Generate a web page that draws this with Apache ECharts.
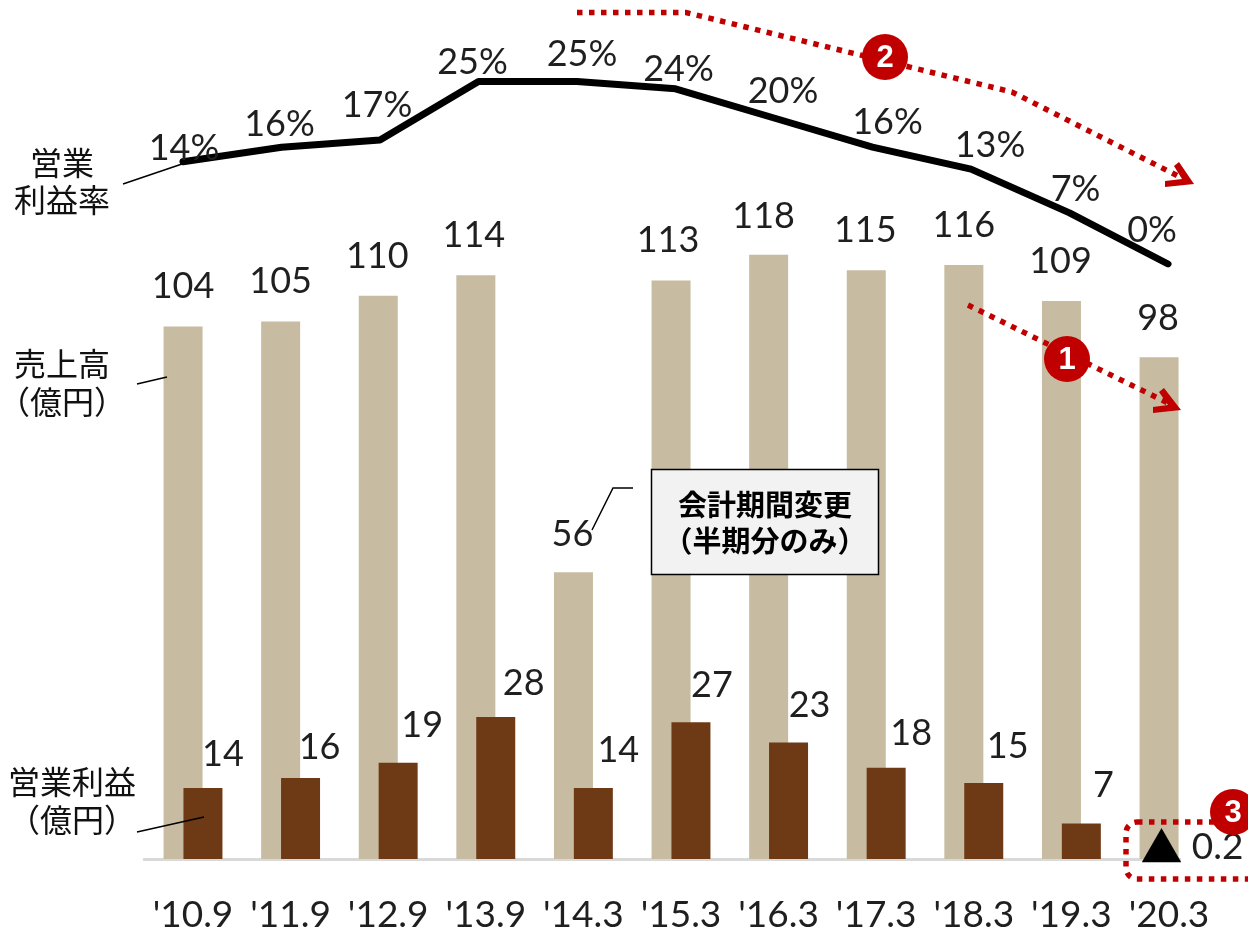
<!DOCTYPE html>
<html>
<head>
<meta charset="utf-8">
<style>html,body{margin:0;padding:0;background:#fff}#chart{width:1248px;height:930px}</style>
<script src="https://cdn.jsdelivr.net/npm/echarts@6/dist/echarts.min.js"></script>
</head>
<body>
<div id="chart"></div>
<script>
// Fiscal periods
const categories = ["'10.9","'11.9","'12.9","'13.9","'14.3","'15.3","'16.3","'17.3","'18.3","'19.3","'20.3"];
// Net sales (100M yen)
const salesValues = [104,105,110,114,56,113,118,115,116,109,98];
// Operating profit (100M yen); the last period is a small loss
const profitValues = [14,16,19,28,14,27,23,18,15,7,-0.2];
// Operating margin (%)
const marginValues = [14,16,17,25,25,24,20,16,13,7,0];

// Per-point label nudges, [dx, dy]
const salesLabelNudge = [[0,0],[0,0],[-1,1],[-2,0],[-1,2],[-3,0],[-5,2],[-1,0],[0,0],[-1,0],[-1,1]];
const profitLabelNudge = [[20,6],[19,9],[24,3],[28,6],[25,2],[21,3],[21,3],[25,6],[24,3],[22,2],[13,31]];
const marginLabelNudge = [[1,10],[-2,1],[-3,-11],[-6,4],[5,-4],[3,4],[9,-3],[15,-1],[19,0],[6,0],[-16,-10]];

const LATIN = 'Lato, "Noto Sans", sans-serif';
const CJK = '"Noto Sans CJK JP", sans-serif';
const RED = '#C00000';
const INK = '#1f1f1f';

const withLabel = (values, nudges) => values.map((v, i) => ({
  value: v,
  label: { offset: nudges[i] }
}));

const chart = echarts.init(document.getElementById('chart'), null, { renderer: 'canvas' });

const leader = (points, width) => ({
  type: 'polyline', z: 60, shape: { points },
  style: { stroke: '#000', lineWidth: width || 1.5, fill: null }
});
const caption = (x, y, text, extra) => ({
  type: 'text', z: 60, x, y,
  style: Object.assign({
    text, fill: '#111', font: '32px ' + CJK, align: 'center', verticalAlign: 'middle'
  }, extra)
});
const dotted = (points) => ({
  type: 'polyline', z: 70, shape: { points },
  style: { stroke: RED, lineWidth: 5.5, lineDash: [5.5, 6.5], fill: null }
});
const arrowHead = (points) => ({
  type: 'polygon', z: 71, shape: { points },
  style: { fill: RED }
});
const badge = (x, y, text) => ({
  type: 'group', z: 80, children: [
    { type: 'circle', z: 80, shape: { cx: x, cy: y, r: 23 }, style: { fill: RED } },
    { type: 'text', z: 81, x, y: y + 1, style: {
      text, fill: '#fff', font: 'bold 31px "Liberation Sans", sans-serif',
      align: 'center', verticalAlign: 'middle' } }
  ]
});

chart.setOption({
  animation: false,
  backgroundColor: '#fff',
  grid: [
    { left: 144.2, width: 1073.6, top: 39.8, height: 819.2, outerBoundsMode: 'none' },
    { left: 133.75, width: 1083.5, top: 45, height: 219, outerBoundsMode: 'none' }
  ],
  xAxis: [
    {
      type: 'category', gridIndex: 0, data: categories, offset: 1.5,
      axisLine: { show: true, lineStyle: { color: '#d9d9d9', width: 3 } },
      axisTick: { show: false },
      axisLabel: { color: INK, fontFamily: LATIN, fontSize: 37, margin: 36.5, interval: 0 }
    },
    { type: 'category', gridIndex: 1, data: categories, show: false }
  ],
  yAxis: [
    { type: 'value', gridIndex: 0, min: 0, max: 160, show: false },
    { type: 'value', gridIndex: 1, min: 0, max: 30, show: false },
    { type: 'value', gridIndex: 0, min: 0, max: 161.6, show: false }
  ],
  series: [
    {
      name: '売上高', type: 'bar', xAxisIndex: 0, yAxisIndex: 0,
      data: withLabel(salesValues, salesLabelNudge),
      barWidth: 39, barGap: '-49%',
      itemStyle: { color: '#C7BCA1' },
      label: { show: true, position: 'top', distance: 22, color: INK, fontFamily: LATIN, fontSize: 36 }
    },
    {
      name: '営業利益', type: 'bar', xAxisIndex: 0, yAxisIndex: 2,
      data: withLabel(profitValues, profitLabelNudge),
      barWidth: 39,
      itemStyle: { color: '#6E3A16' },
      label: {
        show: true, position: 'top', distance: 22, color: INK, fontFamily: LATIN, fontSize: 36,
        formatter: (p) => p.value < 0 ? '{t|▲} {n|' + Math.abs(p.value) + '}' : String(p.value),
        rich: {
          t: { fontFamily: CJK, fontSize: 42, color: '#000' },
          n: { fontFamily: LATIN, fontSize: 37, color: INK }
        }
      }
    },
    {
      name: '営業利益率', type: 'line', xAxisIndex: 1, yAxisIndex: 1,
      data: withLabel(marginValues, marginLabelNudge),
      symbol: 'circle', symbolSize: 1, showSymbol: true, z: 5,
      itemStyle: { color: '#000' },
      lineStyle: { color: '#000', width: 7, cap: 'round', join: 'round' },
      label: {
        show: true, position: 'top', distance: 5, color: INK, fontFamily: LATIN, fontSize: 36,
        formatter: (p) => p.value + '%'
      }
    }
  ],
  graphic: { elements: [
    // The baseline stops at the final bar so the loss figure stands clear of it
    { type: 'rect', z: 1, shape: { x: 1181, y: 856, width: 67, height: 8 }, style: { fill: '#fff' } },

    // Series captions and their leader lines
    caption(62, 163, '営業'),
    caption(62, 200, '利益率'),
    leader([[123, 184], [182, 164]]),
    caption(62, 364, '売上高'),
    caption(62, 402, '（億円）'),
    leader([[137, 384], [167, 377]]),
    caption(72, 782, '営業利益'),
    caption(72, 820, '（億円）'),
    leader([[137, 832], [204, 817]]),

    // Note on the shortened fiscal period
    leader([[592, 530], [613, 488], [633, 488]]),
    { type: 'rect', z: 60, shape: { x: 651.5, y: 469.5, width: 227, height: 105 },
      style: { fill: '#F2F2F2', stroke: '#000', lineWidth: 1.5 } },
    caption(765, 505, '会計期間変更', { font: 'bold 29px ' + CJK, fill: '#000' }),
    caption(765, 541, '（半期分のみ）', { font: 'bold 29px ' + CJK, fill: '#000' }),

    // Trend arrows and numbered call-outs
    dotted([[968, 305], [1168, 403]]),
    arrowHead([[1181, 410], [1164, 388], [1159, 392], [1168, 405], [1153, 407], [1153, 413]]),
    dotted([[577, 12.5], [686, 12.5], [1012, 92], [1178, 176]]),
    arrowHead([[1194, 184], [1179, 162], [1174, 166], [1182, 179], [1165, 181], [1165, 187]]),
    { type: 'rect', z: 70, shape: { x: 1126, y: 822, width: 140, height: 57, r: 11 },
      style: { fill: null, stroke: RED, lineWidth: 5.5, lineDash: [5.5, 6.5] } },
    badge(1067, 359, '1'),
    badge(885, 57, '2'),
    badge(1233, 812, '3')
  ] }
});
</script>
</body>
</html>
